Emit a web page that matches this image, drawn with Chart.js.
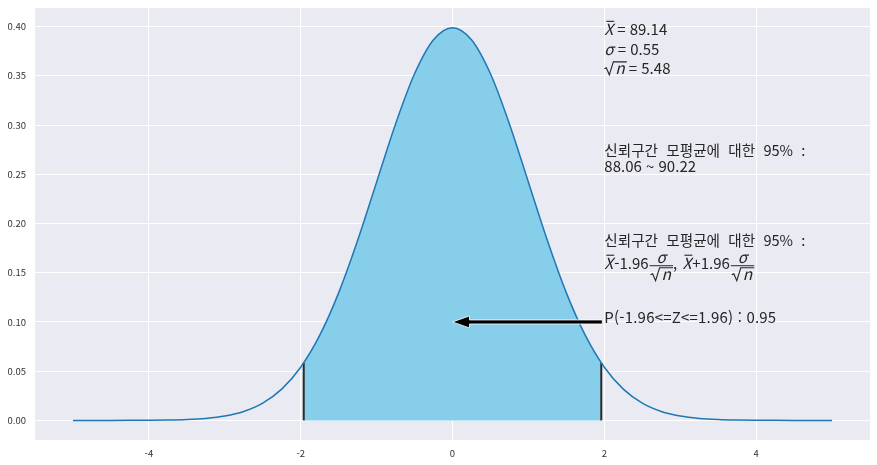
<!DOCTYPE html>
<html lang="ko">
<head>
<meta charset="UTF-8">
<title>모평균 신뢰구간</title>
<script src="https://cdn.jsdelivr.net/npm/chart.js"></script>
<style>
  html, body { margin: 0; padding: 0; background: #fff; }
  #wrap { width: 877px; height: 465px; }
</style>
</head>
<body>
<div id="wrap"><canvas id="chart" width="877" height="465"></canvas></div>
<script>
// standard normal density at 0.25 steps
const xs = [-5, -4.75, -4.5, -4.25, -4, -3.75, -3.5, -3.25, -3, -2.75, -2.5, -2.25, -2, -1.75, -1.5, -1.25, -1, -0.75, -0.5, -0.25,
            0, 0.25, 0.5, 0.75, 1, 1.25, 1.5, 1.75, 2, 2.25, 2.5, 2.75, 3, 3.25, 3.5, 3.75, 4, 4.25, 4.5, 4.75, 5];
const pdf = [0.0000015, 0.000005, 0.000016, 0.00005, 0.00013, 0.00035, 0.00087, 0.00203, 0.00443, 0.00909, 0.01753, 0.03174, 0.05399, 0.08628, 0.12952, 0.18265, 0.24197, 0.30114, 0.35207, 0.38667,
             0.39894, 0.38667, 0.35207, 0.30114, 0.24197, 0.18265, 0.12952, 0.08628, 0.05399, 0.03174, 0.01753, 0.00909, 0.00443, 0.00203, 0.00087, 0.00035, 0.00013, 0.00005, 0.000016, 0.000005, 0.0000015];

// shaded 95% region (-1.96 .. 1.96)
const fillX = [-1.96, -1.75, -1.5, -1.25, -1, -0.75, -0.5, -0.25, 0, 0.25, 0.5, 0.75, 1, 1.25, 1.5, 1.75, 1.96];
const fillY = [0.05844, 0.08628, 0.12952, 0.18265, 0.24197, 0.30114, 0.35207, 0.38667, 0.39894, 0.38667, 0.35207, 0.30114, 0.24197, 0.18265, 0.12952, 0.08628, 0.05844];

const zCrit = 1.96;
const zCritY = 0.05844;

const xTicks = [-4, -2, 0, 2, 4];
const yTicks = [0, 0.05, 0.1, 0.15, 0.2, 0.25, 0.3, 0.35, 0.4];

const xbar = '89.14', sigma = '0.55', sqrtN = '5.48';
const ciLow = '88.06', ciHigh = '90.22';
const probText = 'P(-1.96<=Z<=1.96) : 0.95';
const ciTitle = '신뢰구간 모평균에 대한 95% :';

const FONT = '"Noto Sans CJK KR", "Noto Sans", sans-serif';
const TXT = '#262626';

function put(ctx, s, x, y, size, italic) {
  ctx.font = (italic ? 'italic ' : '') + size + 'px ' + FONT;
  ctx.fillText(s, x, y);
  return x + ctx.measureText(s).width;
}
function hline(ctx, x1, x2, y, w) {
  ctx.beginPath();
  ctx.lineWidth = w || 1;
  ctx.moveTo(x1, y);
  ctx.lineTo(x2, y);
  ctx.stroke();
}
// X with bar
function xBar(ctx, x, y) {
  const x2 = put(ctx, 'X', x, y, 15.5, true);
  hline(ctx, x + 2, x2 + 1, y - 13.5, 1.1);
  return x2 + 1;
}
// radical sign over n
function rootN(ctx, x, y) {
  ctx.font = 'italic 15.5px ' + FONT;
  const nw = ctx.measureText('n').width;
  ctx.beginPath();
  ctx.lineWidth = 1.1;
  ctx.moveTo(x, y - 5);
  ctx.lineTo(x + 2, y - 6);
  ctx.lineTo(x + 5, y + 1);
  ctx.lineTo(x + 9, y - 12);
  ctx.lineTo(x + 13 + nw, y - 12);
  ctx.stroke();
  return put(ctx, 'n', x + 11, y, 15.5, true) + 1;
}
// sigma over sqrt(n)
function frac(ctx, x, y) {
  const w = rootN(ctx, x + 1, y + 11) - x + 1;
  hline(ctx, x, x + w, y - 3, 1);
  ctx.font = 'italic 15.5px ' + FONT;
  const sw = ctx.measureText('σ').width;
  put(ctx, 'σ', x + (w - sw) / 2, y - 6, 15.5, true);
  return x + w;
}
function title(ctx, x, y) {
  ctx.save();
  ctx.wordSpacing = '5px';
  put(ctx, ciTitle, x, y, 14.6);
  ctx.restore();
}

const plotBg = {
  id: 'plotBg',
  beforeDraw(chart) {
    const { ctx, chartArea: a } = chart;
    ctx.save();
    ctx.fillStyle = '#EAEAF2';
    ctx.fillRect(a.left, a.top, a.right - a.left, a.bottom - a.top);
    ctx.restore();
  }
};

const notes = {
  id: 'notes',
  afterDatasetsDraw(chart) {
    const { ctx, scales: { x, y } } = chart;
    const px = x.getPixelForValue(2);
    ctx.save();
    ctx.fillStyle = TXT;
    ctx.strokeStyle = TXT;
    ctx.textBaseline = 'alphabetic';
    ctx.textAlign = 'left';

    // block 1
    let py = y.getPixelForValue(0.35);
    let cx = xBar(ctx, px, py - 41);
    put(ctx, '= ' + xbar, cx + 3, py - 41, 15);
    cx = put(ctx, 'σ', px, py - 21, 15.5, true);
    put(ctx, '= ' + sigma, cx + 4, py - 21, 15);
    cx = rootN(ctx, px, py - 2);
    put(ctx, '= ' + sqrtN, cx + 3, py - 2, 15);

    // block 2
    py = y.getPixelForValue(0.25);
    title(ctx, px, py - 18);
    put(ctx, ciLow + ' ~ ' + ciHigh, px, py - 2.5, 15);

    // block 3
    py = y.getPixelForValue(0.15);
    title(ctx, px, py - 26.5);
    const by = py - 4;
    cx = xBar(ctx, px, by);
    cx = put(ctx, '-1.96', cx, by, 15);
    cx = frac(ctx, cx + 1, by);
    cx = put(ctx, ', ', cx, by, 15);
    cx = xBar(ctx, cx + 1, by);
    cx = put(ctx, '+1.96', cx, by, 15);
    frac(ctx, cx + 1, by);

    // arrow + probability
    py = y.getPixelForValue(0.1);
    const tip = x.getPixelForValue(0);
    const tail = px - 2;
    ctx.beginPath();
    ctx.moveTo(tip, py);
    ctx.lineTo(tip + 17, py - 6);
    ctx.lineTo(tip + 17, py - 2);
    ctx.lineTo(tail, py - 2);
    ctx.lineTo(tail, py + 2);
    ctx.lineTo(tip + 17, py + 2);
    ctx.lineTo(tip + 17, py + 6);
    ctx.closePath();
    ctx.fillStyle = '#000';
    ctx.fill();
    ctx.strokeStyle = '#fff';
    ctx.lineWidth = 0.8;
    ctx.stroke();
    ctx.fillStyle = TXT;
    ctx.letterSpacing = '0.2px';
    put(ctx, probText, px, py + 1, 15);
    ctx.restore();
  }
};

const tickFont = { family: FONT, size: 9.5 };

new Chart(document.getElementById('chart'), {
  type: 'line',
  data: {
    datasets: [
      {
        data: xs.map((v, i) => ({ x: v, y: pdf[i] })),
        borderColor: '#1f77b4',
        borderWidth: 1.5,
        pointRadius: 0,
        fill: false,
        cubicInterpolationMode: 'monotone',
        order: 0
      },
      {
        data: [{ x: -zCrit, y: 0 }, { x: -zCrit, y: zCritY }],
        borderColor: '#2b2b2b',
        borderWidth: 2,
        pointRadius: 0,
        fill: false,
        order: 1
      },
      {
        data: [{ x: zCrit, y: 0 }, { x: zCrit, y: zCritY }],
        borderColor: '#2b2b2b',
        borderWidth: 2,
        pointRadius: 0,
        fill: false,
        order: 1
      },
      {
        data: fillX.map((v, i) => ({ x: v, y: fillY[i] })),
        borderWidth: 0,
        borderColor: 'rgba(0,0,0,0)',
        backgroundColor: '#87CEEB',
        pointRadius: 0,
        fill: 'origin',
        cubicInterpolationMode: 'monotone',
        order: 2
      }
    ]
  },
  options: {
    responsive: false,
    animation: false,
    devicePixelRatio: 1,
    layout: { padding: { top: 8, right: 7, left: 0, bottom: 0 } },
    plugins: { legend: { display: false }, tooltip: { enabled: false } },
    scales: {
      x: {
        type: 'linear',
        min: -5.5,
        max: 5.5,
        grid: { color: '#ffffff', lineWidth: 1, drawTicks: false },
        border: { display: false },
        ticks: { color: '#333', font: tickFont, padding: 8, callback: v => String(v) },
        afterBuildTicks: s => { s.ticks = xTicks.map(v => ({ value: v })); },
        afterFit: s => { s.height = 25; s.paddingLeft = 0; s.paddingRight = 0; }
      },
      y: {
        min: -0.0199,
        max: 0.4189,
        grid: { color: '#ffffff', lineWidth: 1, drawTicks: false },
        border: { display: false },
        ticks: { color: '#333', font: tickFont, padding: 9, callback: v => v.toFixed(2) },
        afterBuildTicks: s => { s.ticks = yTicks.map(v => ({ value: v })); },
        afterFit: s => { s.width = 35; s.paddingTop = 0; s.paddingBottom = 0; }
      }
    }
  },
  plugins: [plotBg, notes]
});
</script>
</body>
</html>
